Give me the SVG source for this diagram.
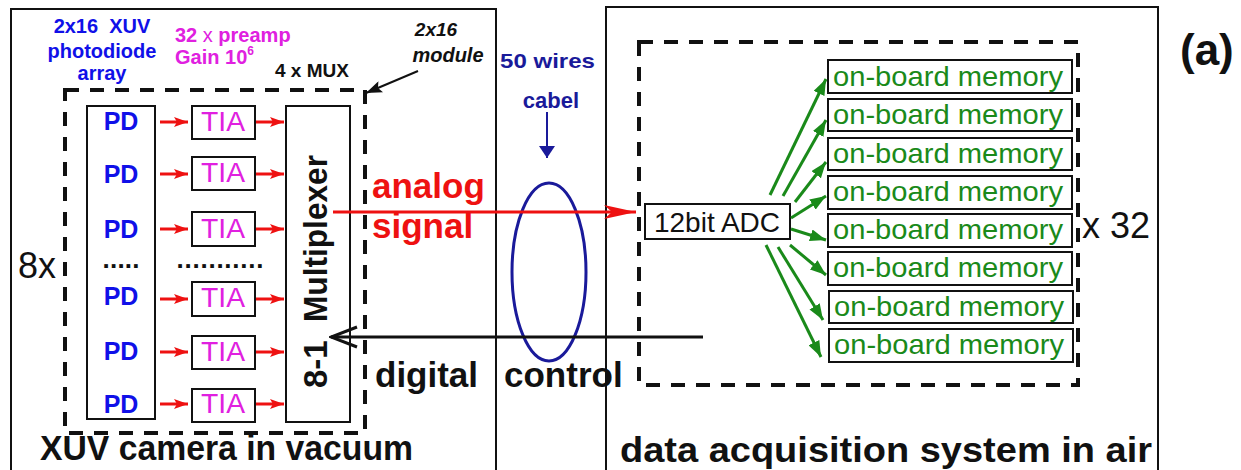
<svg xmlns="http://www.w3.org/2000/svg" width="1241" height="470" viewBox="0 0 1241 470">
<defs>
<style>
text{font-family:"Liberation Sans",Arial,sans-serif}
.b{font-weight:bold}
.frame{fill:none;stroke:#111;stroke-width:2}
.dash{fill:none;stroke:#111;stroke-width:4;stroke-dasharray:14 11}
.box{fill:#fff;stroke:#111;stroke-width:2}
.pd{fill:#1010e8;font-weight:bold;font-size:25px;text-anchor:middle}
.tia{fill:#e020e0;font-size:27px;text-anchor:middle}
.mem{fill:#1a8a1a;font-size:28px}
.ra{stroke:#ee1111;stroke-width:3;marker-end:url(#rh)}
.ga{stroke:#1a8a1a;stroke-width:3;marker-end:url(#gh)}
</style>
<marker id="rh" markerUnits="userSpaceOnUse" markerWidth="14" markerHeight="10" refX="14" refY="5" orient="auto"><path d="M0,0 L14,5 L0,10 L3,5 Z" fill="#ee1111"/></marker>
<marker id="gh" markerUnits="userSpaceOnUse" markerWidth="16" markerHeight="12" refX="16" refY="6" orient="auto"><path d="M0,0 L16,6 L0,12 Z" fill="#1a8a1a"/></marker>
<marker id="bigr" markerUnits="userSpaceOnUse" markerWidth="32" markerHeight="14" refX="32" refY="7" orient="auto"><path d="M0,0 L32,7 L0,14 L8,7 Z" fill="#ee1111"/></marker>
<marker id="kh" markerUnits="userSpaceOnUse" markerWidth="16" markerHeight="12" refX="16" refY="6" orient="auto"><path d="M0,0 L16,6 L0,12 L3,6 Z" fill="#111"/></marker>
<marker id="nh" markerUnits="userSpaceOnUse" markerWidth="12" markerHeight="16" refX="12" refY="8" orient="auto"><path d="M0,0 L12,8 L0,16 Z" fill="#1a1a9a"/></marker>
<marker id="open" markerUnits="userSpaceOnUse" markerWidth="30" markerHeight="24" refX="28" refY="12" orient="auto"><path d="M2,2 L28,12 L2,22" fill="none" stroke="#111" stroke-width="3"/></marker>
</defs>
<rect width="1241" height="470" fill="#fff"/>

<g id="frames">
<rect class="frame" x="11" y="9" width="485" height="475"/>
<rect class="frame" x="606" y="7" width="552" height="477"/>
<rect class="dash" x="65" y="90" width="300" height="343"/>
<rect class="dash" x="639" y="42" width="439" height="343"/>
</g>

<g id="labels">
<text class="b" x="102" y="33" font-size="20" fill="#1010e8" text-anchor="middle" xml:space="preserve">2x16  XUV</text>
<text class="b" x="102" y="58" font-size="20" fill="#1010e8" text-anchor="middle">photodiode</text>
<text class="b" x="102" y="80" font-size="20" fill="#1010e8" text-anchor="middle">array</text>
<text class="b" x="175" y="42" font-size="20" fill="#e020e0">32 <tspan font-weight="normal">x</tspan> preamp</text>
<text class="b" x="175" y="64" font-size="20" fill="#e020e0">Gain 10<tspan font-size="12" dy="-9">6</tspan></text>
<text class="b" x="275" y="77" font-size="19" fill="#111">4 x MUX</text>
<text class="b" x="436" y="36" font-size="19" fill="#111" font-style="italic" text-anchor="middle">2x16</text>
<text class="b" x="448" y="62" font-size="20" fill="#111" font-style="italic" text-anchor="middle">module</text>
<text class="b" x="500" y="68" font-size="21" fill="#1a1a9a" textLength="95" lengthAdjust="spacingAndGlyphs">50 wires</text>
<text class="b" x="551" y="108" font-size="22" fill="#1a1a9a" text-anchor="middle">cabel</text>
<text x="18" y="278" font-size="36" fill="#111">8x</text>
<text class="b" x="372" y="198" font-size="35" fill="#ee1111">analog</text>
<text class="b" x="372" y="238" font-size="35" fill="#ee1111">signal</text>
<text class="b" x="375" y="387" font-size="35" fill="#111">digital</text>
<text class="b" x="504" y="387" font-size="35" fill="#111">control</text>
<text class="b" x="40" y="460" font-size="35" fill="#111" textLength="373" lengthAdjust="spacingAndGlyphs">XUV camera in vacuum</text>
<text class="b" x="620" y="462" font-size="35" fill="#111" textLength="532" lengthAdjust="spacingAndGlyphs">data acquisition system in air</text>
<text class="b" x="1180" y="65" font-size="44" fill="#111">(a)</text>
<text x="1082" y="238" font-size="36" fill="#111">x 32</text>
</g>

<g id="pd-array">
<rect class="box" x="87" y="106" width="68" height="313"/>
<text class="pd" x="121" y="130">PD</text>
<text class="pd" x="121" y="183">PD</text>
<text class="pd" x="121" y="238">PD</text>
<text class="b" x="121" y="268" font-size="26" fill="#111" text-anchor="middle" textLength="37">.....</text>
<text class="pd" x="121" y="305">PD</text>
<text class="pd" x="121" y="360">PD</text>
<text class="pd" x="121" y="413">PD</text>
</g>

<g id="tia-column">
<rect class="box" x="192" y="106" width="63" height="33"/>
<text class="tia" x="223" y="131" textLength="44" lengthAdjust="spacingAndGlyphs">TIA</text>
<rect class="box" x="192" y="157" width="63" height="33"/>
<text class="tia" x="223" y="182" textLength="44" lengthAdjust="spacingAndGlyphs">TIA</text>
<rect class="box" x="192" y="212" width="63" height="34"/>
<text class="tia" x="223" y="238" textLength="44" lengthAdjust="spacingAndGlyphs">TIA</text>
<text class="b" x="220" y="268" font-size="26" fill="#111" text-anchor="middle" textLength="87">...........</text>
<rect class="box" x="192" y="282" width="63" height="34"/>
<text class="tia" x="223" y="307" textLength="44" lengthAdjust="spacingAndGlyphs">TIA</text>
<rect class="box" x="192" y="336" width="63" height="33"/>
<text class="tia" x="223" y="361" textLength="44" lengthAdjust="spacingAndGlyphs">TIA</text>
<rect class="box" x="192" y="389" width="63" height="33"/>
<text class="tia" x="223" y="413" textLength="44" lengthAdjust="spacingAndGlyphs">TIA</text>
</g>

<g id="multiplexer">
<rect class="box" x="286" y="106" width="64" height="316"/>
<text class="b" font-size="33" fill="#111" transform="translate(327,388) rotate(-90)">8-1</text>
<text class="b" font-size="33" fill="#111" transform="translate(327,322) rotate(-90)" textLength="167" lengthAdjust="spacingAndGlyphs">Multiplexer</text>
</g>

<g id="adc">
<rect class="box" x="645" y="204" width="145" height="35"/>
<text x="717" y="232" font-size="28" fill="#111" text-anchor="middle">12bit ADC</text>
</g>

<g id="memories">
<rect class="box" x="828" y="60" width="244" height="33"/>
<text class="mem" x="833" y="86" textLength="230" lengthAdjust="spacingAndGlyphs">on-board memory</text>
<rect class="box" x="828" y="99" width="244" height="32"/>
<text class="mem" x="833" y="124" textLength="230" lengthAdjust="spacingAndGlyphs">on-board memory</text>
<rect class="box" x="828" y="138" width="244" height="32"/>
<text class="mem" x="833" y="163" textLength="230" lengthAdjust="spacingAndGlyphs">on-board memory</text>
<rect class="box" x="828" y="176" width="244" height="33"/>
<text class="mem" x="833" y="201" textLength="230" lengthAdjust="spacingAndGlyphs">on-board memory</text>
<rect class="box" x="828" y="214" width="244" height="33"/>
<text class="mem" x="833" y="239" textLength="230" lengthAdjust="spacingAndGlyphs">on-board memory</text>
<rect class="box" x="828" y="252" width="244" height="33"/>
<text class="mem" x="833" y="277" textLength="230" lengthAdjust="spacingAndGlyphs">on-board memory</text>
<rect class="box" x="829" y="291" width="244" height="32"/>
<text class="mem" x="834" y="316" textLength="230" lengthAdjust="spacingAndGlyphs">on-board memory</text>
<rect class="box" x="829" y="329" width="244" height="33"/>
<text class="mem" x="834" y="354" textLength="230" lengthAdjust="spacingAndGlyphs">on-board memory</text>
</g>

<g id="cable">
<ellipse cx="549" cy="272" rx="37" ry="89" fill="none" stroke="#1a1a9a" stroke-width="3"/>
</g>

<g id="connectors">
<line class="ra" x1="160" y1="122" x2="188" y2="122"/>
<line class="ra" x1="160" y1="174" x2="188" y2="174"/>
<line class="ra" x1="160" y1="229" x2="188" y2="229"/>
<line class="ra" x1="160" y1="299" x2="188" y2="299"/>
<line class="ra" x1="160" y1="352" x2="188" y2="352"/>
<line class="ra" x1="160" y1="404" x2="188" y2="404"/>
<line class="ra" x1="256" y1="122" x2="284" y2="122"/>
<line class="ra" x1="256" y1="174" x2="284" y2="174"/>
<line class="ra" x1="256" y1="229" x2="284" y2="229"/>
<line class="ra" x1="256" y1="299" x2="284" y2="299"/>
<line class="ra" x1="256" y1="352" x2="284" y2="352"/>
<line class="ra" x1="256" y1="404" x2="284" y2="404"/>
<line x1="333" y1="212" x2="636" y2="212" stroke="#ee1111" stroke-width="3" marker-end="url(#bigr)"/>
<line x1="703" y1="337" x2="331" y2="337" stroke="#111" stroke-width="3" marker-end="url(#open)"/>
<line x1="418" y1="71" x2="366" y2="93" stroke="#111" stroke-width="2" marker-end="url(#kh)"/>
<line x1="547" y1="112" x2="547" y2="158" stroke="#1a1a9a" stroke-width="2" marker-end="url(#nh)"/>
<line class="ga" x1="770" y1="195" x2="826" y2="79"/>
<line class="ga" x1="783" y1="196" x2="826" y2="120"/>
<line class="ga" x1="795" y1="202" x2="826" y2="162"/>
<line class="ga" x1="791" y1="218" x2="826" y2="196"/>
<line class="ga" x1="791" y1="229" x2="826" y2="240"/>
<line class="ga" x1="790" y1="245" x2="826" y2="275"/>
<line class="ga" x1="778" y1="247" x2="823" y2="320"/>
<line class="ga" x1="766" y1="245" x2="821" y2="357"/>
</g>
</svg>
